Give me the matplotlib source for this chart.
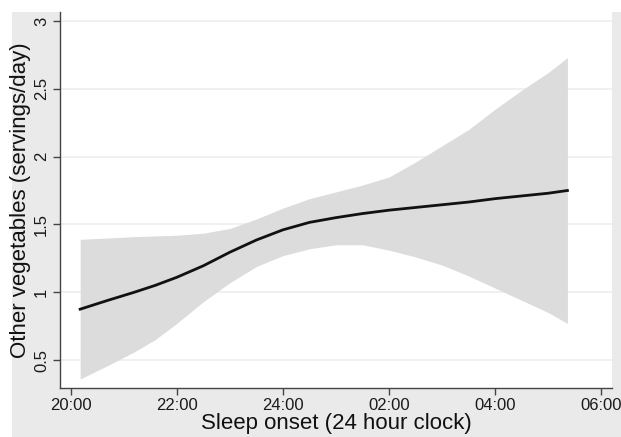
import matplotlib
matplotlib.use("Agg")
import matplotlib.pyplot as plt
from matplotlib.patches import Rectangle

# sleep onset in hours after midnight of day 0 (24 = midnight, 26 = 02:00)
onset = [20.18, 20.7, 21.2, 21.59, 22.0, 22.5, 23.0, 23.5, 24.0, 24.5,
         25.0, 25.5, 26.0, 26.5, 27.0, 27.5, 28.0, 28.5, 29.0, 29.36]
fit = [0.875, 0.94, 1.0, 1.05, 1.11, 1.195, 1.295, 1.385, 1.46, 1.515,
       1.55, 1.58, 1.605, 1.625, 1.645, 1.665, 1.69, 1.71, 1.73, 1.75]
upper = [1.39, 1.40, 1.41, 1.415, 1.42, 1.435, 1.47, 1.54, 1.62, 1.69,
         1.74, 1.79, 1.85, 1.96, 2.08, 2.20, 2.35, 2.49, 2.62, 2.73]
lower = [0.36, 0.46, 0.56, 0.65, 0.77, 0.93, 1.07, 1.19, 1.27, 1.32,
         1.35, 1.35, 1.31, 1.26, 1.20, 1.12, 1.03, 0.94, 0.85, 0.77]

xticks = [20, 22, 24, 26, 28, 30]
xlabels = ["20:00", "22:00", "24:00", "02:00", "04:00", "06:00"]
yticks = [0.5, 1, 1.5, 2, 2.5, 3]
ylabels = ["0.5", "1", "1.5", "2", "2.5", "3"]

plt.rcParams['font.family'] = ['Liberation Sans', 'DejaVu Sans']

W, H = 621, 437
fig = plt.figure(figsize=(W / 100, H / 100), dpi=100, facecolor='white')
# grey panel behind the plot
fig.patches.append(Rectangle((12 / W, 0), 1 - 12 / W, 1 - 12 / H,
                             transform=fig.transFigure, facecolor='#eaeaea',
                             edgecolor='none', zorder=-10))

ax = fig.add_axes([60 / W, 49 / H, 552 / W, 376 / H])
ax.set_zorder(1)
ax.set_facecolor('white')

ax.fill_between(onset, lower, upper, color='#dcdcdc', linewidth=0, zorder=2)
ax.plot(onset, fit, color='#111111', linewidth=2, zorder=3)

ax.set_xlim(19.80, 30.2)
ax.set_ylim(0.294, 3.066)
ax.set_xticks(xticks)
ax.set_xticklabels(xlabels, fontsize=12)
ax.set_yticks(yticks)
ax.set_yticklabels(ylabels, fontsize=12, rotation=90, va='center')

ax.grid(axis='y', color='#eeeeee', linewidth=1.2, zorder=1)
ax.set_axisbelow(True)
for side in ['top', 'right']:
    ax.spines[side].set_visible(False)
for side in ['left', 'bottom']:
    ax.spines[side].set_color('#444444')
    ax.spines[side].set_linewidth(1.0)
ax.tick_params(direction='out', length=5, width=1, color='#444444',
               labelcolor='#1a1a1a', pad=3)
ax.tick_params(axis='x', pad=2)

ax.set_xlabel("Sleep onset (24 hour clock)", fontsize=16, labelpad=0,
              color='#111111')
ax.set_ylabel("Other vegetables (servings/day)", fontsize=16, labelpad=2,
              color='#111111')

fig.savefig("out.png", dpi=100, facecolor=fig.get_facecolor())
